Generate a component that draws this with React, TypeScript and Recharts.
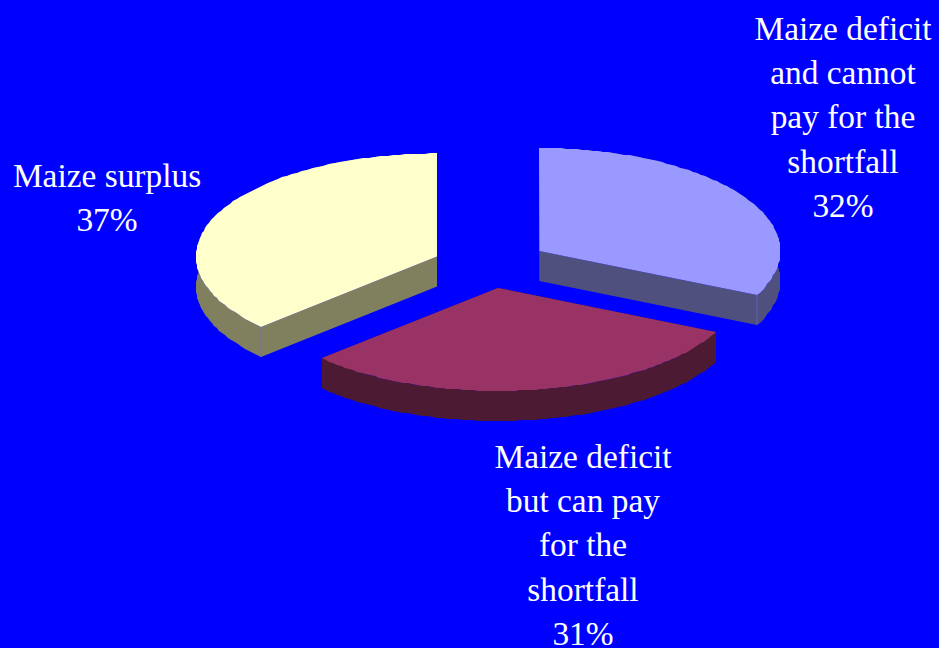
import { PieChart, Pie, Cell } from "recharts";

// Household maize balance shares, clockwise from 12 o'clock
const categories = [
  "Maize deficit and cannot pay for the shortfall",
  "Maize deficit but can pay for the shortfall",
  "Maize surplus",
];
const shares = [32, 31, 37];
const topColors = ["#9999FF", "#993366", "#FFFFCC"];
const sideColors = ["#50507F", "#4D1A33", "#80805F"];
const labelLines = [
  ["Maize deficit", "and cannot", "pay for the", "shortfall"],
  ["Maize deficit", "but can pay", "for the", "shortfall"],
  ["Maize surplus"],
];
const labelCenters = [843, 583, 107];
const labelFirstBaselines = [40, 468, 187];

const data = categories.map((name, i) => ({ name, value: shares[i] }));

const TILT = 103 / 241; // vertical squash of the disc
const EXPLODE = 0.235; // slice pull-out, as a fraction of the radius
const DEPTH = 30;
const LINE_HEIGHT = 44.2;
const RAD = Math.PI / 180;
const RIM_STEPS = 90;
// small per-slice shift on top of the pull-out
const shiftX = [1.5, -1, -1];
const shiftY = [0, 0, 2];

const SlabSector = (props: any) => {
  const { cx, cy, outerRadius, startAngle, endAngle, index } = props;
  const mid = ((startAngle + endAngle) / 2) * RAD;
  const ox = cx + Math.cos(mid) * outerRadius * EXPLODE + shiftX[index];
  const oy = cy - Math.sin(mid) * outerRadius * TILT * EXPLODE + shiftY[index];

  // rim snapped to whole pixels so the curve keeps a stepped edge
  const rim: [number, number][] = [];
  for (let s = 0; s <= RIM_STEPS; s++) {
    const a = (startAngle + ((endAngle - startAngle) * s) / RIM_STEPS) * RAD;
    rim.push([
      Math.round(ox + Math.cos(a) * outerRadius),
      Math.round(oy - Math.sin(a) * outerRadius * TILT),
    ]);
  }
  const first = rim[0];
  const last = rim[rim.length - 1];
  const pts = (list: [number, number][]) => list.map(([x, y]) => `${x},${y}`).join(" ");
  const down = (list: [number, number][]) =>
    list.map(([x, y]) => [x, y + DEPTH] as [number, number]);

  const side = sideColors[index];
  // front corner where the cut face meets the curved wall
  const corner = index === 0 ? last : first;
  return (
    <g>
      <polygon points={pts([...rim, ...down(rim).reverse()])} fill={side} />
      <polygon points={pts([[ox, oy], first, ...down([first]), [ox, oy + DEPTH]])} fill={side} />
      <polygon points={pts([[ox, oy], last, ...down([last]), [ox, oy + DEPTH]])} fill={side} />
      {index !== 1 && (
        <line
          x1={corner[0]}
          y1={corner[1]}
          x2={corner[0]}
          y2={corner[1] + DEPTH}
          stroke="#6A6AE0"
          strokeWidth={0.6}
        />
      )}
      <polygon points={pts([[ox, oy], ...rim])} fill={topColors[index]} />
    </g>
  );
};

const SliceLabel = (props: any) => {
  const { index, value } = props;
  const lines = [...labelLines[index], `${value}%`];
  return (
    <text
      x={labelCenters[index]}
      y={labelFirstBaselines[index]}
      textAnchor="middle"
      fill="#FFFFFF"
      fontFamily="'Liberation Serif', serif"
      fontSize={33.4}
    >
      {lines.map((line, i) => (
        <tspan key={line} x={labelCenters[index]} dy={i === 0 ? 0 : LINE_HEIGHT}>
          {line}
        </tspan>
      ))}
    </text>
  );
};

export default function App() {
  const sectorProps: any = { shape: SlabSector, inactiveShape: SlabSector, activeShape: SlabSector };
  return (
    <div
      style={{
        position: "absolute",
        left: 0,
        top: 0,
        width: 939,
        height: 648,
        overflow: "hidden",
        background: "#0000FF",
      }}
    >
      <PieChart width={939} height={648} margin={{ top: 0, right: 0, bottom: 0, left: 0 }}>
        <Pie
          data={data}
          dataKey="value"
          nameKey="name"
          cx={490}
          cy={264}
          innerRadius={0}
          outerRadius={241}
          startAngle={90}
          endAngle={-270}
          stroke="none"
          labelLine={false}
          label={SliceLabel}
          isAnimationActive={false}
          {...sectorProps}
        >
          {data.map((entry, i) => (
            <Cell key={entry.name} fill={topColors[i]} />
          ))}
        </Pie>
      </PieChart>
    </div>
  );
}
